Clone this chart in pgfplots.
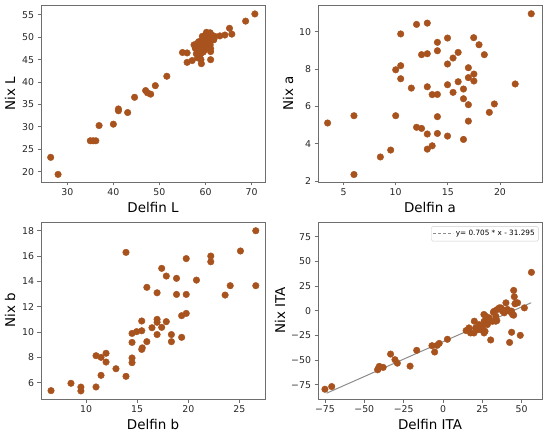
\documentclass[border=0pt]{standalone}
\usepackage{fontspec}
\setmainfont{DejaVu Sans}
\usepackage{pgfplots}
\pgfplotsset{compat=1.18}
\definecolor{dot}{RGB}{168,82,30}
\definecolor{frame}{RGB}{110,110,110}
\pgfplotsset{
  panel/.style={
    scale only axis, width=224bp, height=177bp,
    axis line style={frame, line width=0.8bp},
    tick align=outside, tick pos=left,
    major tick length=3.5bp,
    every tick/.style={frame, line width=0.8bp},
    minor tick num=0,
    /pgf/number format/assume math mode=true,
    ticklabel style={font=\fontsize{9.4}{11}\selectfont, text=black!85},
    label style={font=\fontsize{13.5}{16}\selectfont},
    scaled ticks=false,
  },
  dots/.style={only marks, mark=*, mark size=3.3bp, color=dot, mark options={draw=dot, fill=dot}},
}
\begin{document}
\begin{tikzpicture}
\useasboundingbox (0,0) rectangle (550bp,435bp);
% Panel 1
\begin{axis}[panel, at={(41bp,253bp)}, anchor=south west,
  xmin=24.3, xmax=72.9, ymin=17.7, ymax=57.2,
  xtick={30,40,50,60,70}, ytick={20,25,30,35,40,45,50,55},
  xlabel={Delfin L}, ylabel={Nix L},
  xlabel style={at={([yshift=-25bp]axis description cs:0.5,0)}, anchor=center},
  ylabel style={at={([xshift=-31bp]axis description cs:0,0.5)}, anchor=center, rotate=0}]
\addplot[dots] coordinates {
(26.4,23.2)(28.0,19.4)(35.0,26.9)(35.6,26.9)(36.2,26.9)(36.9,30.3)(40.0,30.6)
(41.1,34.0)(41.1,33.6)(43.1,33.2)(44.6,36.6)(47.0,38.1)(47.4,37.6)(48.1,37.3)
(49.1,39.2)(51.6,41.3)(55.0,46.6)(56.0,46.5)(56.0,44.4)(57.1,44.8)(59.1,44.1)
(61.1,45.0)(61.1,46.8)(61.1,47.5)(65.2,52.0)(68.7,53.6)(70.7,55.2)(65.7,50.7)
(63.1,50.3)(64.2,50.5)
(57.5,48.3)(57.8,47.5)(58.0,46.3)(58.3,45.4)(58.5,49.0)(58.5,47.0)(58.7,48.2)
(58.8,46.0)(59.0,45.0)(59.0,47.8)(59.2,49.3)(59.5,46.7)(59.5,48.5)(59.8,47.2)
(60.0,50.5)(60.0,48.8)(60.2,49.8)(60.3,47.7)(60.5,50.8)(60.8,49.0)(61.0,51.0)
(61.0,48.3)(61.3,49.9)(61.5,50.4)(61.8,49.5)(62.0,50.2)(59.3,50.2)(58.2,48.6)
(60.2,51.1)(61.7,49.4)
};
\end{axis}
% Panel 2
\begin{axis}[panel, at={(318bp,253bp)}, anchor=south west,
  xmin=2.55, xmax=24.03, ymin=1.95, ymax=11.43,
  xtick={5,10,15,20}, ytick={2,4,6,8,10},
  xlabel={Delfin a}, ylabel={Nix a},
  xlabel style={at={([yshift=-25bp]axis description cs:0.5,0)}, anchor=center},
  ylabel style={at={([xshift=-30bp]axis description cs:0,0.5)}, anchor=center, rotate=0}]
\addplot[dots] coordinates {
(3.47,5.11)(6.0,5.5)(6.0,2.35)(8.53,3.29)(9.52,3.66)(10.0,5.5)(10.0,7.96)
(10.48,8.18)(10.48,7.48)(10.48,9.88)(11.5,6.98)(12.0,10.39)(12.0,4.88)(12.48,4.82)
(12.48,8.77)(13.03,8.82)(13.03,10.46)(13.03,7.05)(13.03,4.52)(13.03,3.71)(13.5,3.89)
(13.5,6.63)(14.0,6.64)(14.0,5.45)(14.0,4.55)(14.0,8.98)(14.0,9.43)(14.97,9.66)
(14.97,8.27)(14.97,7.16)(14.97,4.41)(15.5,8.59)(15.5,6.75)(15.99,8.89)(15.99,7.32)
(16.5,6.93)(16.5,6.41)(16.5,4.23)(16.97,8.07)(16.97,7.54)(16.97,6.09)(16.97,5.21)
(17.5,7.73)(17.5,7.36)(17.48,9.68)(17.99,9.3)(18.5,8.77)(18.98,5.68)(19.46,6.13)
(21.46,7.2)(23.0,10.96)
};
\end{axis}
% Panel 3
\begin{axis}[panel, at={(41bp,36bp)}, anchor=south west,
  xmin=5.6, xmax=27.5, ymin=4.71, ymax=18.69,
  xtick={10,15,20,25}, ytick={6,8,10,12,14,16,18},
  xlabel={Delfin b}, ylabel={Nix b},
  xlabel style={at={([yshift=-25bp]axis description cs:0.5,0)}, anchor=center},
  ylabel style={at={([xshift=-31bp]axis description cs:0,0.5)}, anchor=center, rotate=0}]
\addplot[dots] coordinates {
(6.58,5.37)(8.53,5.95)(9.5,5.65)(9.5,5.35)(10.98,5.66)(10.98,8.13)(11.47,8.0)
(11.47,6.58)(11.96,8.32)(11.96,7.63)(12.93,7.1)(13.91,6.5)(13.91,16.29)(14.5,9.89)
(14.5,9.18)(14.5,7.95)(14.5,7.58)(14.95,10.03)(15.45,10.1)(15.45,10.87)(15.45,8.63)
(15.5,8.75)(15.95,9.24)(15.95,13.53)(16.45,10.34)(16.95,13.1)(16.95,9.8)(16.95,11.0)
(16.95,10.77)(17.4,15.03)(17.4,10.37)(17.85,14.42)(17.85,10.82)(18.35,9.8)(18.35,9.24)
(18.85,14.24)(18.85,12.97)(19.35,9.58)(19.35,11.29)(19.8,15.8)(19.8,12.97)(19.8,11.47)
(20.8,14.1)(22.2,16.0)(22.2,15.55)(23.6,12.92)(24.1,13.66)(25.1,16.4)(26.6,18.0)
(26.6,13.66)
};
\end{axis}
% Panel 4
\begin{axis}[panel, at={(318bp,36bp)}, anchor=south west,
  xmin=-79.4, xmax=62.9, ymin=-89.3, ymax=90,
  xtick={-75,-50,-25,0,25,50}, ytick={-75,-50,-25,0,25,50,75},
  xticklabels={−75,−50,−25,0,25,50}, yticklabels={−75,−50,−25,0,25,50,75},
  xlabel={Delfin ITA}, ylabel={Nix ITA},
  xlabel style={at={([yshift=-25bp]axis description cs:0.5,0)}, anchor=center},
  ylabel style={at={([xshift=-38bp]axis description cs:0,0.5)}, anchor=center, rotate=0},
  legend style={font=\fontsize{7.3}{8.5}\selectfont, draw=black!20, rounded corners=1.5bp,
    inner sep=1.8bp, at={(0.985,0.975)}, anchor=north east},
  legend cell align=left]
\addplot[dots, forget plot] coordinates {
(-75,-79.4)(-70.7,-76.7)(-41.5,-59.7)(-40.0,-57.0)(-41.2,-58.7)(-40.5,-56.3)(-38,-57.3)
(-33.3,-43.8)(-30.5,-49.5)(-29,-53)(-20.9,-56)(-16.7,-40)(-7,-35.3)(-5.3,-41.7)
(-3.8,-35)(-2.4,-33)(2.8,-28.8)(14.7,-20)(16.5,-19)(17.5,-22.4)(19.7,-22.4)
(19.9,-10.5)(20.7,-17.3)(22.2,-19)(23.5,-16.3)(26,-3.7)(26.7,-11.5)(26.7,-20.7)
(28.2,-13.9)(29.3,-7.1)(30.3,-29.5)(32,-1.4)(33.5,-10.5)(34.2,-9.8)(35.7,3)
(37.8,-0.3)(40,8.1)(41,1.4)(42.3,-32)(43.6,-21.7)(43.6,-0.3)(44.9,-4.4)
(44.9,20.7)(45.3,14.3)(45.7,7.1)(47.4,8.1)(49.1,-24.8)(51.7,3)(56.2,39)
(36.8,3)(34.4,1.3)(32.5,-0.4)(27.2,-5.5)(26.1,-10.6)(16.5,-17.3)(31.4,-10.6)
(33.6,-5.5)(38.9,-2)(42.1,-0.4)(44.2,-3.8)(37.7,1.3)(22.9,-14)(25,-17.3)
(28.2,-8.9)(23.9,-19)(26.1,-22.4)(46.4,8.1)
};
\addplot[color=black!45, line width=1bp,
  legend image code/.code={\draw[black!45, line width=0.8bp, dash pattern=on 3bp off 2bp] (0bp,0bp) -- (20bp,0bp);}]
  coordinates {(-74,-83.465)(56,8.185)};
\addlegendentry{y= 0.705 * x - 31.295}
\end{axis}
\end{tikzpicture}
\end{document}
